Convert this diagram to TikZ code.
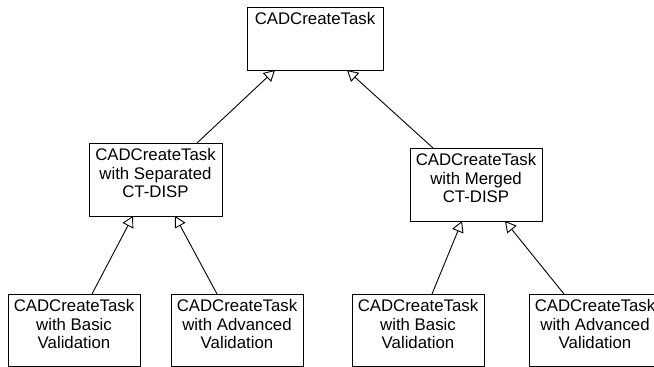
\documentclass[tikz,border=0pt]{standalone}
\usepackage{fontspec}
\setmainfont{Liberation Sans}
\usetikzlibrary{arrows.meta}
\tikzset{
  cls/.style={draw, line width=1pt, rectangle, inner sep=0pt, outer sep=0pt},
  gen/.style={line width=0.9pt,
    -{Triangle[length=11pt, width=12pt, fill=white, line width=0.9pt]}},
}
% class box body: width, height, centred lines set from the top edge
\newcommand{\clstext}[3]{\parbox[c][#2][t]{#1}{\centering
  \fontsize{16.8}{18.5}\selectfont\rule{0pt}{17.8pt}#3}}
\begin{document}
\begin{tikzpicture}[x=1pt, y=-1pt]
  \useasboundingbox (0,0) rectangle (654,367);
  \clip (0,0) rectangle (654,367);

  % base class
  \node[cls] (top) at (315,38.5) {\clstext{136pt}{63pt}{CADCreateTask}};

  % second level
  \node[cls] (sep) at (155.5,179.5)
    {\clstext{133pt}{73pt}{CADCreateTask\\with Separated\\CT-DISP}};
  \node[cls] (mrg) at (476,184.5)
    {\clstext{132pt}{73pt}{CADCreateTask\\with Merged\\CT-DISP}};

  % leaf classes
  \node[cls] (sb) at (74,330)
    {\clstext{132pt}{72pt}{CADCreateTask\\with Basic\\Validation}};
  \node[cls] (sa) at (237,330)
    {\clstext{132pt}{72pt}{CADCreateTask\\with Advanced\\Validation}};
  \node[cls] (mb) at (418,330)
    {\clstext{132pt}{72pt}{CADCreateTask\\with Basic\\Validation}};
  \node[cls] (ma) at (595,330)
    {\clstext{132pt}{72pt}{CADCreateTask\\with Advanced\\Validation}};

  % generalisation links
  \draw[gen] ([xshift=41.5pt]sep.north) -- ([xshift=-40pt]top.south);
  \draw[gen] ([xshift=-43pt]mrg.north) -- ([xshift=32pt]top.south);
  \draw[gen] ([xshift=18pt]sb.north) -- ([xshift=-22.5pt]sep.south);
  \draw[gen] ([xshift=-20pt]sa.north) -- ([xshift=19.5pt]sep.south);
  \draw[gen] ([xshift=14pt]mb.north) -- ([xshift=-14pt]mrg.south);
  \draw[gen] ([xshift=-31pt]ma.north) -- ([xshift=29pt]mrg.south);
\end{tikzpicture}
\end{document}
